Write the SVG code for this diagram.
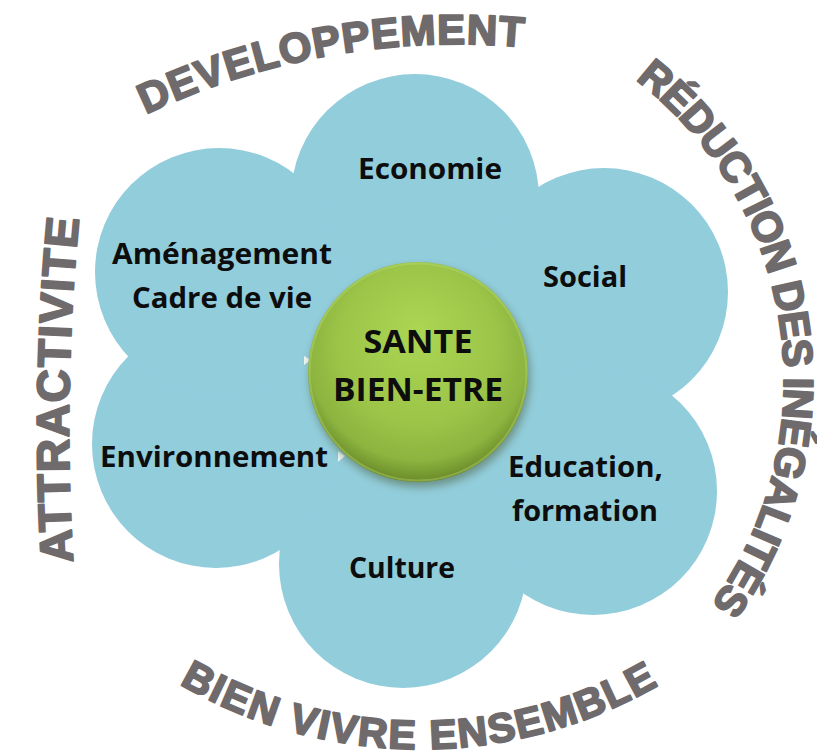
<svg xmlns="http://www.w3.org/2000/svg" width="817" height="751" viewBox="0 0 817 751">
  <style>
    .petal { fill: #92CDDC; }
    .lbl { font-family: "Open Sans", "Noto Sans", "Liberation Sans", sans-serif; font-weight: 700; font-size: 29px; fill: #0d0d0d; text-anchor: middle; }
    .core { font-family: "Open Sans", "Noto Sans", "Liberation Sans", sans-serif; font-weight: 700; font-size: 32px; fill: #0d0d0d; text-anchor: middle; }
    .arc { font-family: "Liberation Sans", Arial, sans-serif; font-weight: 700; fill: #6F6A6B; stroke: #6F6A6B; stroke-width: 2; stroke-linejoin: round; }
  </style>
  <defs>
    <radialGradient id="sph" cx="50%" cy="42%" r="58%" fx="50%" fy="30%">
      <stop offset="0" stop-color="#abd553"/>
      <stop offset="0.6" stop-color="#9dc649"/>
      <stop offset="0.86" stop-color="#8cb43f"/>
      <stop offset="1" stop-color="#6a8a29"/>
    </radialGradient>
    <filter id="shadow" x="-20%" y="-20%" width="140%" height="140%">
      <feGaussianBlur stdDeviation="4"/>
    </filter>
    <path id="pDev" d="M145.8,114.4 A728,728 0 0 1 524,47"/>
    <path id="pRed" d="M635.3,79.5 A380,380 0 0 1 711,604.9"/>
    <path id="pBien" d="M179.3,683.9 A477,477 0 0 0 658.9,684.9"/>
    <path id="pAttr" d="M73,562 A2200,2200 0 0 1 79,218"/>
  </defs>

  <g id="flower">
    <circle class="petal" cx="408" cy="377" r="175"/>
    <circle class="petal" cx="415" cy="198" r="124"/>
    <circle class="petal" cx="604" cy="292" r="124"/>
    <circle class="petal" cx="593" cy="491" r="124"/>
    <circle class="petal" cx="403" cy="564" r="124"/>
    <circle class="petal" cx="216" cy="444" r="124"/>
    <circle class="petal" cx="219" cy="272" r="124"/>
  </g>

  <g id="node-economie">
    <text class="lbl" x="430" y="179" textLength="144" lengthAdjust="spacingAndGlyphs">Economie</text>
  </g>
  <g id="node-social">
    <text class="lbl" x="585" y="287" textLength="84" lengthAdjust="spacingAndGlyphs">Social</text>
  </g>
  <g id="node-education">
    <text class="lbl" x="585.5" y="477" textLength="155" lengthAdjust="spacingAndGlyphs">Education,</text>
    <text class="lbl" x="585" y="521" textLength="146" lengthAdjust="spacingAndGlyphs">formation</text>
  </g>
  <g id="node-culture">
    <text class="lbl" x="402" y="578" textLength="106" lengthAdjust="spacingAndGlyphs">Culture</text>
  </g>
  <g id="node-environnement">
    <text class="lbl" x="214" y="467" textLength="228" lengthAdjust="spacingAndGlyphs">Environnement</text>
  </g>
  <g id="node-amenagement">
    <text class="lbl" x="222" y="264" textLength="220" lengthAdjust="spacingAndGlyphs">Aménagement</text>
    <text class="lbl" x="222" y="308" textLength="180" lengthAdjust="spacingAndGlyphs">Cadre de vie</text>
  </g>

  <g id="connectors">
    <polygon points="304,356 311,360 304,365" fill="#eef6f8"/>
    <polygon points="338,451 345,456 338,462" fill="#eef6f8"/>
  </g>

  <g id="node-sante">
    <circle cx="420" cy="377" r="110" fill="#3d4a1a" opacity="0.45" filter="url(#shadow)"/>
    <circle cx="418" cy="372" r="110" fill="url(#sph)"/>
    <circle cx="418" cy="372" r="108.5" fill="none" stroke="#c4e07a" stroke-opacity="0.35" stroke-width="2"/>
    <text class="core" x="418" y="353" textLength="109" lengthAdjust="spacingAndGlyphs">SANTE</text>
    <text class="core" x="418" y="401" textLength="170" lengthAdjust="spacingAndGlyphs">BIEN-ETRE</text>
  </g>

  <g id="ring-developpement">
    <text class="arc" font-size="42"><textPath href="#pDev" textLength="388" lengthAdjust="spacing">DEVELOPPEMENT</textPath></text>
  </g>
  <g id="ring-reduction">
    <text class="arc" font-size="42"><textPath href="#pRed" textLength="587" lengthAdjust="spacing">RÉDUCTION DES INÉGALITÉS</textPath></text>
  </g>
  <g id="ring-bien-vivre">
    <text class="arc" font-size="41"><textPath href="#pBien" textLength="502" lengthAdjust="spacing">BIEN VIVRE ENSEMBLE</textPath></text>
  </g>
  <g id="ring-attractivite">
    <text class="arc" font-size="46"><textPath href="#pAttr" textLength="344" lengthAdjust="spacing">ATTRACTIVITE</textPath></text>
  </g>
</svg>
